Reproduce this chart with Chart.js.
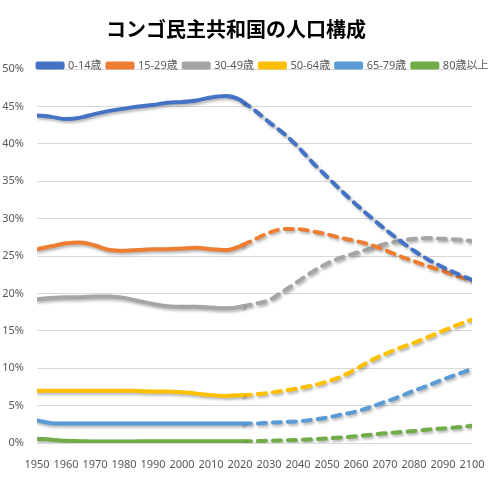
<!DOCTYPE html>
<html>
<head>
<meta charset="utf-8">
<script src="https://cdn.jsdelivr.net/npm/chart.js@4/dist/chart.umd.min.js"></script>
<style>
  html, body { margin: 0; padding: 0; background: #fff; }
  #wrap { width: 493px; height: 480px; position: relative; }
</style>
</head>
<body>
<div id="wrap"><canvas id="c" width="493" height="480"></canvas></div>
<script>
const TITLE = "コンゴ民主共和国の人口構成";
const LABELS = ["0-14歳", "15-29歳", "30-49歳", "50-64歳", "65-79歳", "80歳以上"];
const COLORS = ["#4472C4", "#ED7D31", "#A5A5A5", "#FFC000", "#5B9BD5", "#70AD47"];

const HIST_YEARS = [1950, 1955, 1960, 1965, 1970, 1975, 1980, 1985, 1990, 1995, 2000, 2005, 2010, 2015, 2020, 2021];
const PROJ_YEARS = [2021, 2025, 2030, 2035, 2040, 2045, 2050, 2055, 2060, 2065, 2070, 2075, 2080, 2085, 2090, 2095, 2100];

const HIST_0_14  = [43.8, 43.6, 43.3, 43.5, 44.0, 44.4, 44.7, 45.0, 45.2, 45.5, 45.6, 45.8, 46.2, 46.4, 45.9, 45.6];
const HIST_15_29 = [25.9, 26.3, 26.7, 26.8, 26.4, 25.8, 25.7, 25.8, 25.9, 25.9, 26.0, 26.1, 25.9, 25.8, 26.3, 26.5];
const HIST_30_49 = [19.2, 19.4, 19.5, 19.5, 19.6, 19.6, 19.4, 19.0, 18.6, 18.3, 18.2, 18.2, 18.1, 18.0, 18.2, 18.3];
const HIST_50_64 = [7.0, 7.0, 7.0, 7.0, 7.0, 7.0, 7.0, 6.95, 6.9, 6.9, 6.8, 6.6, 6.4, 6.3, 6.4, 6.4];
const HIST_65_79 = [3.0, 2.65, 2.6, 2.6, 2.6, 2.6, 2.6, 2.6, 2.6, 2.6, 2.6, 2.6, 2.6, 2.6, 2.6, 2.6];
const HIST_80    = [0.55, 0.45, 0.3, 0.25, 0.2, 0.2, 0.2, 0.22, 0.25, 0.25, 0.25, 0.25, 0.25, 0.25, 0.25, 0.25];

const PROJ_0_14  = [45.6, 44.5, 42.9, 41.4, 39.6, 37.5, 35.6, 33.7, 31.9, 30.2, 28.6, 27.1, 25.7, 24.5, 23.5, 22.6, 21.8];
const PROJ_15_29 = [26.5, 27.2, 28.1, 28.6, 28.6, 28.3, 27.9, 27.4, 27.0, 26.5, 25.8, 25.0, 24.3, 23.6, 23.0, 22.3, 21.7];
const PROJ_30_49 = [18.3, 18.6, 19.1, 20.3, 21.6, 22.9, 24.0, 24.8, 25.4, 26.0, 26.6, 27.0, 27.3, 27.4, 27.3, 27.2, 27.0];
const PROJ_50_64 = [6.4, 6.5, 6.7, 7.0, 7.3, 7.7, 8.2, 8.9, 9.9, 11.0, 11.9, 12.7, 13.4, 14.2, 15.0, 15.8, 16.5];
const PROJ_65_79 = [2.6, 2.6, 2.7, 2.8, 2.9, 3.1, 3.4, 3.8, 4.2, 4.8, 5.5, 6.2, 7.0, 7.7, 8.5, 9.2, 9.9];
const PROJ_80    = [0.25, 0.25, 0.3, 0.35, 0.4, 0.5, 0.6, 0.75, 0.9, 1.1, 1.3, 1.45, 1.6, 1.8, 1.95, 2.1, 2.3];

const Y_TICKS = [0, 5, 10, 15, 20, 25, 30, 35, 40, 45, 50];

const HIST = [HIST_0_14, HIST_15_29, HIST_30_49, HIST_50_64, HIST_65_79, HIST_80];
const PROJ = [PROJ_0_14, PROJ_15_29, PROJ_30_49, PROJ_50_64, PROJ_65_79, PROJ_80];

const datasets = [];
LABELS.forEach((lab, i) => {
  datasets.push({
    label: lab,
    data: HIST_YEARS.map((x, k) => ({ x, y: HIST[i][k] })),
    borderColor: COLORS[i],
    backgroundColor: COLORS[i],
    borderWidth: 4,
    borderCapStyle: 'round',
    borderJoinStyle: 'round',
    pointRadius: 0,
    cubicInterpolationMode: 'monotone'
  });
});
LABELS.forEach((lab, i) => {
  datasets.push({
    label: lab + "(推計)",
    data: PROJ_YEARS.map((x, k) => ({ x, y: PROJ[i][k] })),
    borderColor: COLORS[i],
    backgroundColor: COLORS[i],
    borderWidth: 4,
    borderDash: [8, 7],
    borderCapStyle: 'round',
    borderJoinStyle: 'round',
    pointRadius: 0,
    cubicInterpolationMode: 'monotone'
  });
});

const shadowPlugin = {
  id: 'shadow',
  beforeDatasetDraw(chart) {
    const ctx = chart.ctx;
    ctx.save();
    ctx.shadowColor = 'rgba(0,0,0,0.30)';
    ctx.shadowBlur = 3;
    ctx.shadowOffsetX = 1.5;
    ctx.shadowOffsetY = 2;
  },
  afterDatasetDraw(chart) {
    chart.ctx.restore();
  }
};

const legendShift = {
  id: 'legendShift',
  afterLayout(chart) {
    const lg = chart.legend;
    if (lg) {
      lg.top += 12; lg.bottom += 12;
      lg.left += 27; lg.right += 27;
    }
  }
};

const FONT = '"Noto Sans", "Noto Sans CJK JP", sans-serif';

new Chart(document.getElementById('c'), {
  type: 'line',
  data: { datasets },
  plugins: [shadowPlugin, legendShift],
  options: {
    responsive: false,
    animation: false,
    layout: { padding: { left: 0, right: 21, top: 0, bottom: 12 } },
    plugins: {
      title: {
        display: true,
        text: TITLE,
        color: '#000',
        font: { family: '"Noto Sans CJK JP", sans-serif', size: 20, weight: 'bold' },
        padding: { top: 17, bottom: 1 }
      },
      legend: {
        display: true,
        position: 'top',
        align: 'center',
        labels: {
          filter: (item) => item.datasetIndex < 6,
          boxWidth: 25,
          boxHeight: 4,
          padding: 6,
          color: '#595959',
          font: { family: FONT, size: 11 }
        }
      },
      tooltip: { enabled: false }
    },
    scales: {
      x: {
        type: 'linear',
        min: 1950,
        max: 2100,
        grid: { display: false },
        border: { display: false },
        ticks: {
          stepSize: 10,
          autoSkip: false,
          maxRotation: 0,
          padding: 7,
          color: '#595959',
          font: { family: FONT, size: 11 },
          callback: (v) => String(v)
        },
        afterFit: (s) => { s.height = 25; }
      },
      y: {
        min: 0,
        max: 50,
        afterBuildTicks: (s) => { s.ticks = Y_TICKS.map(v => ({ value: v })); },
        grid: { color: '#D9D9D9', lineWidth: 1, drawTicks: false },
        border: { display: false },
        ticks: {
          padding: 13,
          color: '#595959',
          font: { family: FONT, size: 11 },
          callback: (v) => v + '%'
        },
        afterFit: (s) => { s.width = 37; }
      }
    }
  }
});
</script>
</body>
</html>
